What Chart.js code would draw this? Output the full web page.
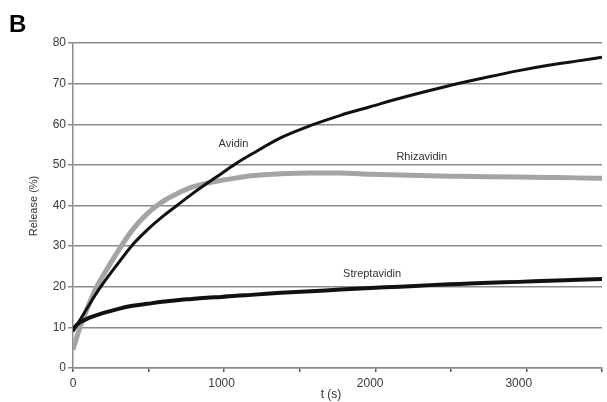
<!DOCTYPE html>
<html>
<head>
<meta charset="utf-8">
<script src="https://cdn.jsdelivr.net/npm/chart.js@4.4.1/dist/chart.umd.min.js"></script>
<style>
html,body{margin:0;padding:0;background:#fff;}
#wrap{width:607px;height:402px;position:relative;}
</style>
</head>
<body>
<div id="wrap"><canvas id="c" width="607" height="402"></canvas></div>
<script>
// time points (s)
const timeSec = [0,25,50,100,150,200,300,400,500,600,700,800,900,1000,1100,1200,1400,1600,1800,2000,2200,2400,2600,2800,3000,3200,3400,3560];
// Release (%) per protein
const avidin =       [9,10.5,12,15,18,20.7,25.6,30.3,34,37.2,40,42.8,45.4,47.9,50.4,52.6,56.7,59.7,62.2,64.3,66.4,68.3,70.1,71.7,73.2,74.5,75.6,76.5];
const rhizavidin =   [4.5,7.5,10.3,15,19.3,22.6,28.6,34,38,40.9,42.9,44.5,45.5,46.2,46.8,47.3,47.8,48,48,47.7,47.5,47.3,47.2,47.1,47,46.9,46.8,46.7];
const streptavidin = [9.5,10.6,11.3,12.2,12.9,13.5,14.5,15.3,15.8,16.3,16.7,17,17.3,17.5,17.8,18,18.5,18.9,19.3,19.7,20,20.4,20.7,21,21.2,21.5,21.7,21.9];
const yTicks = [0,10,20,30,40,50,60,70,80];
const xLabelTicks = [0,1000,2000,3000];
const seriesNames = ['Avidin','Streptavidin','Rhizavidin'];
// label anchor in data units [t, release]
const labelAnchors = [[1080,55.1],[2013,23.1],[2347,51.9]];

const pts = arr => arr.map((v,i)=>({x:timeSec[i], y:v}));
const FONT = '"Liberation Sans", Arial, sans-serif';

const textPlugin = {
  id:'texts',
  afterDraw(chart){
    const ctx = chart.ctx, xs = chart.scales.x, ys = chart.scales.y;
    ctx.save();
    ctx.fillStyle = '#000';
    ctx.font = 'bold 24px ' + FONT;
    ctx.textAlign = 'left'; ctx.textBaseline = 'top';
    ctx.fillText('B', 9, 13);
    ctx.fillStyle = '#333';
    ctx.font = '11px ' + FONT;
    ctx.textAlign = 'center'; ctx.textBaseline = 'middle';
    seriesNames.forEach((n,i)=>{
      ctx.fillText(n, xs.getPixelForValue(labelAnchors[i][0]), ys.getPixelForValue(labelAnchors[i][1]));
    });
    // x tick labels at 1000s
    ctx.fillStyle = '#3a3a3a';
    ctx.font = '12px ' + FONT;
    xLabelTicks.forEach(v=>{
      ctx.fillText(String(v), xs.getPixelForValue(v), 384);
    });
    ctx.fillStyle = '#333';
    ctx.fillText('t (s)', 331, 395);
    ctx.translate(34, 206);
    ctx.rotate(-Math.PI/2);
    ctx.font = '11px ' + FONT;
    ctx.fillText('Release (%)', 0, 0);
    ctx.restore();
  }
};

new Chart(document.getElementById('c'), {
  type:'line',
  data:{
    datasets:[
      {label:'Avidin', data:pts(avidin), borderColor:'#111', borderWidth:3, pointRadius:0, cubicInterpolationMode:'monotone', fill:false},
      {label:'Streptavidin', data:pts(streptavidin), borderColor:'#111', borderWidth:4, pointRadius:0, cubicInterpolationMode:'monotone', fill:false},
      {label:'Rhizavidin', data:pts(rhizavidin), borderColor:'#a4a4a4', borderWidth:5, pointRadius:0, cubicInterpolationMode:'monotone', fill:false}
    ]
  },
  options:{
    responsive:false,
    animation:false,
    events:[],
    layout:{padding:{top:43,right:0,left:0,bottom:0}},
    plugins:{legend:{display:false}, tooltip:{enabled:false}},
    scales:{
      x:{
        type:'linear', min:0, max:3560,
        border:{color:'#8c8c8c', width:1.5},
        grid:{drawOnChartArea:false, drawTicks:true, tickLength:4, color:'#555', lineWidth:1.5},
        ticks:{stepSize:500, includeBounds:false, maxRotation:0, autoSkip:false, padding:5,
          color:'#3a3a3a', font:{family:FONT, size:12},
          callback:()=> ''},
        afterFit(s){ s.height = 34; }
      },
      y:{
        min:0, max:80,
        border:{color:'#8c8c8c', width:1.5},
        grid:{color:'#8a8a8a', lineWidth:1.5, tickLength:5},
        ticks:{stepSize:10, padding:2, color:'#3a3a3a', font:{family:FONT, size:12},
          callback:(v)=> yTicks.includes(v) ? String(v) : ''},
        afterFit(s){ s.width = 73; }
      }
    }
  },
  plugins:[textPlugin]
});
</script>
</body>
</html>
